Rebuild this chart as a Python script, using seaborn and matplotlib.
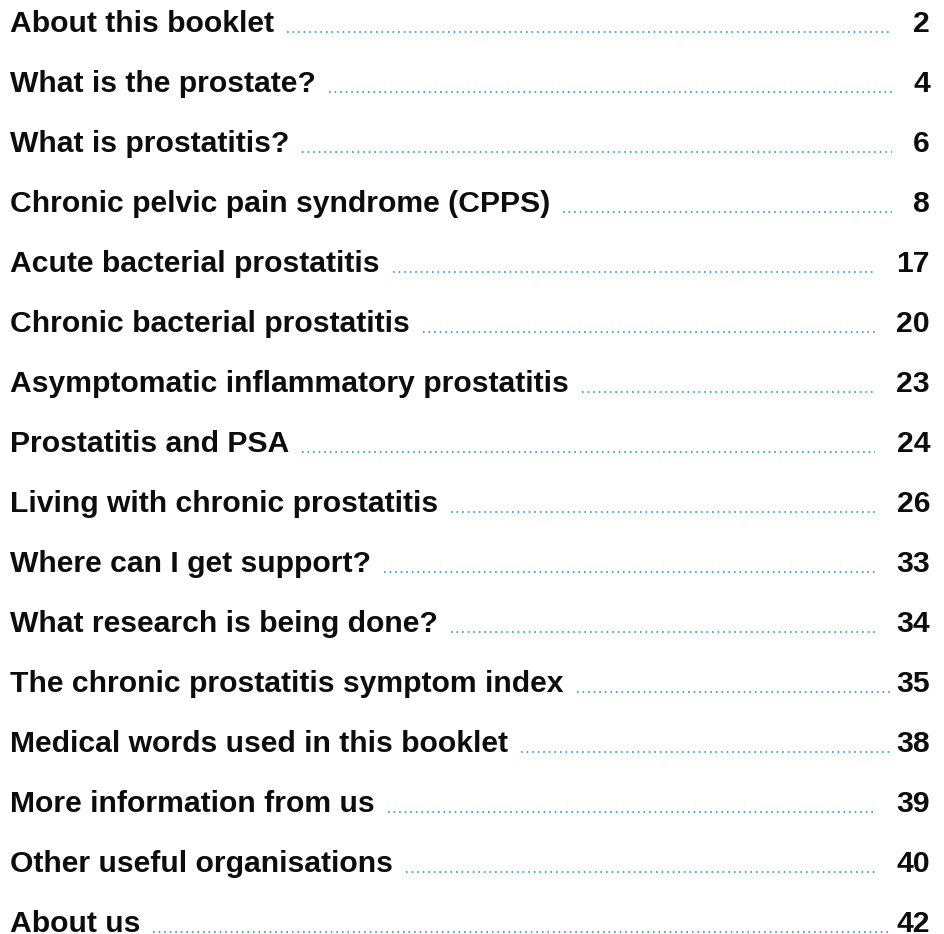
import matplotlib
matplotlib.use("Agg")
import matplotlib.pyplot as plt
import seaborn as sns

# Contents page of the booklet: section titles and page numbers
sections = [
    "About this booklet",
    "What is the prostate?",
    "What is prostatitis?",
    "Chronic pelvic pain syndrome (CPPS)",
    "Acute bacterial prostatitis",
    "Chronic bacterial prostatitis",
    "Asymptomatic inflammatory prostatitis",
    "Prostatitis and PSA",
    "Living with chronic prostatitis",
    "Where can I get support?",
    "What research is being done?",
    "The chronic prostatitis symptom index",
    "Medical words used in this booklet",
    "More information from us",
    "Other useful organisations",
    "About us",
]
pages = ["2", "4", "6", "8", "17", "20", "23", "24", "26", "33", "34", "35", "38", "39", "40", "42"]

# layout (pixels): where each dotted leader stops
leader_stop = [892, 892, 892, 892, 875, 875, 875, 875, 875, 875, 875, 892, 892, 875, 875, 892]

sns.set_theme(style="white")
plt.rcParams["font.family"] = ["Liberation Sans", "DejaVu Sans"]
plt.rcParams["lines.scale_dashes"] = False

W, H = 944, 934
fig = plt.figure(figsize=(W / 100, H / 100), dpi=100)
ax = fig.add_axes([0, 0, 1, 1])
ax.set_xlim(0, W)
ax.set_ylim(H, 0)
ax.axis("off")

fsize = 21.7
texts = []
for i, (title, page) in enumerate(zip(sections, pages)):
    y = 32 + 60 * i
    t = ax.text(10, y, title, fontsize=fsize, fontweight="bold", color="#0d0d0d",
                ha="left", va="baseline")
    ax.text(930, y, page, fontsize=fsize, fontweight="bold", color="#0d0d0d",
            ha="right", va="baseline")
    texts.append((t, y))

# measure the titles so the leaders start just after them
fig.canvas.draw()
renderer = fig.canvas.get_renderer()
inv = ax.transData.inverted()
for (t, y), stop in zip(texts, leader_stop):
    bb = t.get_window_extent(renderer=renderer)
    x_end = inv.transform((bb.x1, bb.y0))[0]
    ax.plot([x_end + 13, stop], [y - 0.5, y - 0.5], color="#3a9fdc", lw=1.3,
            dashes=(1.2, 2.8), dash_capstyle="butt")

fig.savefig("out.png", dpi=100, facecolor="white")
